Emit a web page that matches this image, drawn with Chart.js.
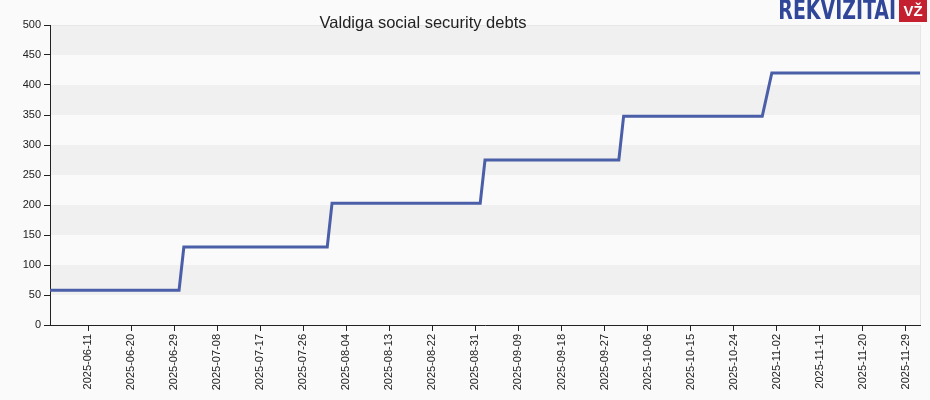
<!DOCTYPE html>
<html><head><meta charset="utf-8">
<script src="https://cdn.jsdelivr.net/npm/chart.js@4"></script>
<style>body{margin:0;background:#fafafa}#w{width:930px;height:400px;position:relative}</style>
</head><body><div id="w"><canvas id="c"></canvas></div>
<script>
const startDate = '2025-06-03';
const endDate = '2025-12-02';
const pointDates = ['2025-06-03','2025-06-30','2025-07-01','2025-07-31','2025-08-01','2025-09-01','2025-09-02','2025-09-30','2025-10-01','2025-10-30','2025-11-01','2025-12-02'];
const debtValues = [58,58,130,130,203,203,275,275,348,348,420,420];
const tickDates = ['2025-06-11','2025-06-20','2025-06-29','2025-07-08','2025-07-17','2025-07-26','2025-08-04','2025-08-13','2025-08-22','2025-08-31','2025-09-09','2025-09-18','2025-09-27','2025-10-06','2025-10-15','2025-10-24','2025-11-02','2025-11-11','2025-11-20','2025-11-29'];
const DAY=86400000, t0=Date.parse(startDate);
const d=s=>(Date.parse(s)-t0)/DAY;
const lbl=v=>new Date(t0+v*DAY).toISOString().slice(0,10);
const bands={id:'bands',beforeDraw(ch){const {ctx,chartArea:a,scales:{y}}=ch;ctx.save();
 for(let v=0;v<500;v+=50){ctx.fillStyle=(v/50)%2?'#f0f0f0':'#fafafa';const t=y.getPixelForValue(v+50),b=y.getPixelForValue(v);ctx.fillRect(a.left,t,a.right-a.left,b-t);}
 ctx.strokeStyle='#e6e6e6';ctx.lineWidth=1;ctx.strokeRect(a.left+0.5,a.top+0.5,a.right-a.left,a.bottom-a.top);
 ctx.restore();},
 afterDraw(ch){const ctx=ch.ctx;ctx.save();
 ctx.font='16.5px "Liberation Sans", sans-serif';ctx.fillStyle='#222';ctx.textAlign='center';ctx.textBaseline='middle';ctx.fillText('Valdiga social security debts',423,23);
 ctx.translate(896,12);ctx.scale(0.78,1);ctx.font='bold 27px "DejaVu Sans Condensed", sans-serif';ctx.fillStyle='#2f4699';ctx.textAlign='right';
 ctx.fillText('REKVIZITAI',0,0);ctx.setTransform(1,0,0,1,0,0);ctx.fillStyle='#c4202f';ctx.fillRect(899,0,28,22);ctx.fillStyle='#fff';ctx.font='bold 15px "Liberation Sans", sans-serif';ctx.textAlign='center';ctx.fillText('VŽ',913,12);ctx.restore();}};
new Chart(document.getElementById('c'),{type:'line',
 data:{datasets:[{data:pointDates.map((s,i)=>({x:d(s),y:debtValues[i]})),borderColor:'#4a5fa8',borderWidth:3,pointRadius:0,tension:0}]},
 options:{responsive:true,maintainAspectRatio:false,animation:false,
  layout:{padding:{top:25,right:10}},
  plugins:{legend:{display:false},tooltip:{enabled:false},title:{display:false}},
  scales:{
   x:{type:'linear',min:0,max:d(endDate),afterFit(s){s.height=75;},
    afterBuildTicks(s){s.ticks=tickDates.map(t=>({value:d(t)}));},
    ticks:{callback:v=>lbl(v),maxRotation:90,minRotation:90,autoSkip:false,font:{family:'Liberation Sans',size:11},color:'#222'},
    grid:{display:true,drawOnChartArea:false,tickLength:6,color:'#222'},border:{color:'#222'}},
   y:{min:0,max:500,afterFit(s){s.width=50;},ticks:{stepSize:50,font:{family:'Liberation Sans',size:11},color:'#222'},
    grid:{drawOnChartArea:false,tickLength:6,color:'#222'},border:{color:'#222'}}}},
 plugins:[bands]});
</script></body></html>
